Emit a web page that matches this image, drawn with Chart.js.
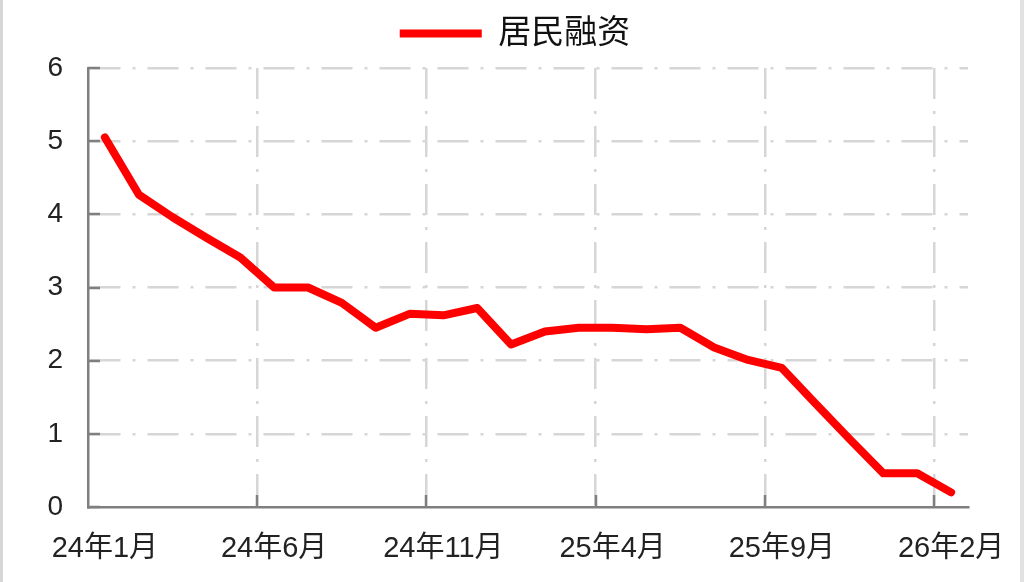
<!DOCTYPE html>
<html>
<head>
<meta charset="utf-8">
<script src="https://cdn.jsdelivr.net/npm/chart.js@4/dist/chart.umd.min.js"></script>
<style>
  html, body { margin: 0; padding: 0; background: #ffffff; }
  #wrap { position: relative; width: 1024px; height: 582px; overflow: hidden; }
  #lb { position: absolute; left: 0; top: 0; width: 3px; height: 582px; background: #d6d6d6; }
  #rb { position: absolute; right: 0; top: 0; width: 4px; height: 582px; background: #e2e2e2; }
  canvas { position: absolute; left: 0; top: 0; }
</style>
</head>
<body>
<div id="wrap">
  <canvas id="c" width="1024" height="582"></canvas>
  <div id="lb"></div>
  <div id="rb"></div>
</div>
<script>
// ---- data ----
const categories = [
  '24年1月','24年2月','24年3月','24年4月','24年5月','24年6月','24年7月','24年8月','24年9月','24年10月','24年11月','24年12月',
  '25年1月','25年2月','25年3月','25年4月','25年5月','25年6月','25年7月','25年8月','25年9月','25年10月','25年11月','25年12月',
  '26年1月','26年2月'
];
const seriesName = '居民融资';
const financing = [5.05, 4.27, 3.96, 3.68, 3.41, 3.00, 3.00, 2.79, 2.45, 2.64, 2.62, 2.72,
                   2.22, 2.40, 2.45, 2.45, 2.43, 2.45, 2.18, 2.01, 1.90, 1.41, 0.93, 0.46,
                   0.46, 0.20];
const yTicks = [0, 1, 2, 3, 4, 5, 6];
const labelEvery = 5;

// ---- styles ----
const FONT = "'Liberation Sans', 'Noto Sans CJK SC', sans-serif";
const GRID = '#d6d6d6';
const AXIS = '#7f7f7f';
const RED = '#ff0000';

const innerTicks = {
  id: 'innerTicks',
  beforeDatasetsDraw(chart) {
    const {ctx, scales: {x, y}} = chart;
    ctx.save();
    ctx.strokeStyle = AXIS;
    ctx.lineWidth = 2.5;
    ctx.beginPath();
    for (let i = labelEvery; i <= categories.length - 1; i += labelEvery) {
      const px = Math.round(x.getPixelForValue(i - 0.5));
      ctx.moveTo(px, y.bottom);
      ctx.lineTo(px, y.bottom - 12);
    }
    yTicks.forEach(v => {
      const py = Math.round(y.getPixelForValue(v));
      ctx.moveTo(x.left, py);
      ctx.lineTo(x.left + 12, py);
    });
    ctx.stroke();
    ctx.restore();
  }
};

const legendPlace = {
  id: 'legendPlace',
  beforeInit(chart) {
    const lg = chart.legend;
    const origFit = lg.fit;
    lg.fit = function () {
      origFit.call(lg);
      lg.height = 68;
    };
  },
  afterLayout(chart) {
    const lg = chart.legend;
    lg.left += 31;
    lg.right += 31;
  }
};

new Chart(document.getElementById('c'), {
  type: 'line',
  data: {
    labels: categories,
    datasets: [{
      label: seriesName,
      data: financing,
      borderColor: RED,
      backgroundColor: RED,
      borderWidth: 8,
      pointRadius: 0,
      tension: 0,
      borderJoinStyle: 'round',
      borderCapStyle: 'round'
    }]
  },
  options: {
    responsive: false,
    animation: false,
    layout: { padding: { left: 0, right: 56, top: 0, bottom: 0 } },
    plugins: {
      tooltip: { enabled: false },
      legend: {
        position: 'top',
        labels: {
          usePointStyle: true,
          pointStyle: 'line',
          pointStyleWidth: 82,
          boxHeight: 30,
          padding: 17,
          color: '#111',
          font: { family: FONT, size: 33 }
        }
      }
    },
    scales: {
      x: {
        type: 'category',
        offset: true,
        afterFit(s) { s.height = 75; s.paddingLeft = 0; s.paddingRight = 0; },
        grid: {
          offset: true,
          drawTicks: false,
          lineWidth: 2.5,
          color: ctx => (ctx.index !== undefined && ctx.index > 0 && ctx.index % labelEvery === 0) ? GRID : 'rgba(0,0,0,0)'
        },
        border: { display: true, color: AXIS, width: 2.5, dash: [31, 12, 3, 12] },
        ticks: {
          autoSkip: false,
          maxRotation: 0,
          minRotation: 0,
          padding: 25,
          color: '#222',
          font: { family: FONT, size: 29 },
          callback: (v, i) => (i % labelEvery === 0 ? categories[i] : '')
        }
      },
      y: {
        min: 0,
        max: 6,
        afterFit(s) { s.width = 88; },
        afterBuildTicks(s) { s.ticks = yTicks.map(v => ({ value: v })); },
        grid: {
          drawTicks: false,
          lineWidth: 2.5,
          color: ctx => (ctx.tick && ctx.tick.value > 0) ? GRID : 'rgba(0,0,0,0)'
        },
        border: { display: true, color: AXIS, width: 2.5, dash: [31, 12, 3, 12] },
        ticks: {
          padding: 25,
          color: '#222',
          font: { family: FONT, size: 28 }
        }
      }
    }
  },
  plugins: [innerTicks, legendPlace]
});
</script>
</body>
</html>
